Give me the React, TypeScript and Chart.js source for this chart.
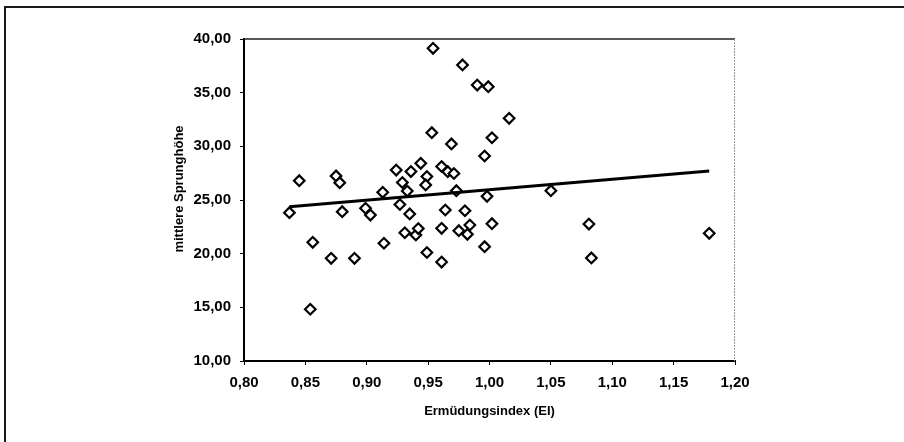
import React, { useEffect, useRef } from "react";
import { Chart, registerables } from "chart.js";

Chart.register(...registerables);

// Ermüdungsindex (EI) values
const eiValues = [
  0.837, 0.845, 0.856, 0.854, 0.871, 0.875, 0.878, 0.88, 0.89, 0.899, 0.903,
  0.913, 0.914, 0.924, 0.927, 0.929, 0.931, 0.933, 0.935, 0.936, 0.94, 0.942,
  0.944, 0.949, 0.948, 0.949, 0.954, 0.953, 0.961, 0.961, 0.961, 0.964, 0.966,
  0.969, 0.971, 0.973, 0.975, 0.978, 0.98, 0.984, 0.982, 0.99, 0.996, 0.996,
  0.998, 0.999, 1.002, 1.002, 1.016, 1.05, 1.081, 1.083, 1.179,
];

// mittlere Sprunghöhe values
const heightValues = [
  23.82, 26.8, 21.06, 14.82, 19.57, 27.24, 26.61, 23.91, 19.57, 24.23, 23.6,
  25.72, 20.97, 27.79, 24.58, 26.63, 21.95, 25.84, 23.7, 27.65, 21.74, 22.34,
  28.42, 27.19, 26.4, 20.11, 39.13, 31.27, 28.12, 22.36, 19.22, 24.07, 27.64,
  30.22, 27.47, 25.87, 22.14, 37.58, 24.0, 22.67, 21.8, 35.71, 29.1, 20.65,
  25.34, 35.56, 22.79, 30.8, 32.61, 25.87, 22.76, 19.6, 21.9,
];

// trend line end points
const trendX = [0.837, 1.179];
const trendY = [24.38, 27.7];

const xTickValues = [0.8, 0.85, 0.9, 0.95, 1.0, 1.05, 1.1, 1.15, 1.2];
const yTickValues = [10, 15, 20, 25, 30, 35, 40];

const xTitle = "Ermüdungsindex (EI)";
const yTitle = "mittlere Sprunghöhe";

const FONT = "'Liberation Sans', Arial, Helvetica, sans-serif";
const fmt = (v: number) => Number(v).toFixed(2).replace(".", ",");

const framePlugin = {
  id: "frameDecor",
  beforeDraw(chart: any) {
    const ctx = chart.ctx;
    ctx.save();
    ctx.fillStyle = "#ffffff";
    ctx.fillRect(0, 0, chart.width, chart.height);
    ctx.strokeStyle = "#1a1a1a";
    ctx.lineWidth = 2;
    ctx.beginPath();
    ctx.moveTo(5, chart.height);
    ctx.lineTo(5, 7);
    ctx.lineTo(chart.width, 7);
    ctx.stroke();
    ctx.restore();
  },
  beforeDatasetsDraw(chart: any) {
    const { left, right, top, bottom } = chart.chartArea;
    const ctx = chart.ctx;
    ctx.save();
    ctx.strokeStyle = "#222";
    ctx.lineWidth = 1.5;
    ctx.beginPath();
    ctx.moveTo(left, top);
    ctx.lineTo(right, top);
    ctx.stroke();
    ctx.strokeStyle = "#9a9a9a";
    ctx.lineWidth = 1;
    ctx.setLineDash([2, 1]);
    ctx.beginPath();
    ctx.moveTo(right - 0.5, top);
    ctx.lineTo(right - 0.5, bottom);
    ctx.stroke();
    ctx.restore();
  },
  afterDraw(chart: any) {
    // y-axis title, placed slightly above the plot's centre as in the original
    const ctx = chart.ctx;
    const { top, bottom } = chart.chartArea;
    ctx.save();
    ctx.translate(179.5, (top + bottom) / 2 - 11);
    ctx.rotate(-Math.PI / 2);
    ctx.fillStyle = "#000";
    ctx.font = `bold 13px ${FONT}`;
    ctx.textAlign = "center";
    ctx.textBaseline = "middle";
    ctx.fillText(yTitle, 0, 0);
    ctx.restore();
  },
};

export default function App() {
  const canvasRef = useRef<HTMLCanvasElement | null>(null);

  useEffect(() => {
    const canvas = canvasRef.current;
    if (!canvas) return;
    const points = eiValues.map((x, i) => ({ x, y: heightValues[i] }));
    const trend = trendX.map((x, i) => ({ x, y: trendY[i] }));

    const chart = new Chart(canvas, {
      type: "scatter",
      data: {
        datasets: [
          {
            label: "Trend",
            data: trend,
            showLine: true,
            borderColor: "#000",
            borderWidth: 3,
            pointRadius: 0,
            fill: false,
            order: 0,
          } as any,
          {
            label: "Werte",
            data: points,
            pointStyle: "rectRot",
            pointRadius: 5.3,
            borderWidth: 2.2,
            borderColor: "#000",
            backgroundColor: "#fff",
            order: 1,
          } as any,
        ],
      },
      options: {
        animation: false,
        responsive: false,
        maintainAspectRatio: false,
        events: [],
        layout: { padding: { left: 0, top: 39, right: 169, bottom: 0 } },
        plugins: {
          legend: { display: false },
          tooltip: { enabled: false },
        },
        scales: {
          x: {
            type: "linear",
            min: 0.8,
            max: 1.2,
            afterBuildTicks: (scale: any) => {
              scale.ticks = xTickValues.map((v) => ({ value: v }));
            },
            afterFit: (scale: any) => {
              scale.height = 81;
            },
            border: { display: true, color: "#000", width: 2 },
            grid: {
              drawOnChartArea: false,
              drawTicks: true,
              tickLength: 4,
              color: "#000",
            },
            ticks: {
              autoSkip: false,
              maxRotation: 0,
              color: "#000",
              padding: 9,
              font: { family: FONT, size: 15, weight: "bold" },
              callback: (v: any) => fmt(v),
            },
            title: {
              display: true,
              text: xTitle,
              color: "#000",
              font: { family: FONT, size: 13, weight: "bold" },
              padding: { top: 0, bottom: 23 },
            },
          },
          y: {
            type: "linear",
            min: 10,
            max: 40,
            afterBuildTicks: (scale: any) => {
              scale.ticks = yTickValues.map((v) => ({ value: v }));
            },
            afterFit: (scale: any) => {
              scale.width = 244;
            },
            border: { display: true, color: "#000", width: 2 },
            grid: {
              drawOnChartArea: false,
              drawTicks: true,
              tickLength: 4,
              color: "#000",
            },
            ticks: {
              color: "#000",
              padding: 9,
              font: { family: FONT, size: 15, weight: "bold" },
              callback: (v: any) => fmt(v),
            },
            title: { display: false, text: yTitle },
          },
        },
      } as any,
      plugins: [framePlugin],
    });

    return () => chart.destroy();
  }, []);

  return (
    <div
      style={{
        position: "absolute",
        left: 0,
        top: 0,
        width: 904,
        height: 442,
        background: "#fff",
        overflow: "hidden",
      }}
    >
      <canvas ref={canvasRef} width={904} height={442} style={{ display: "block" }} />
    </div>
  );
}
